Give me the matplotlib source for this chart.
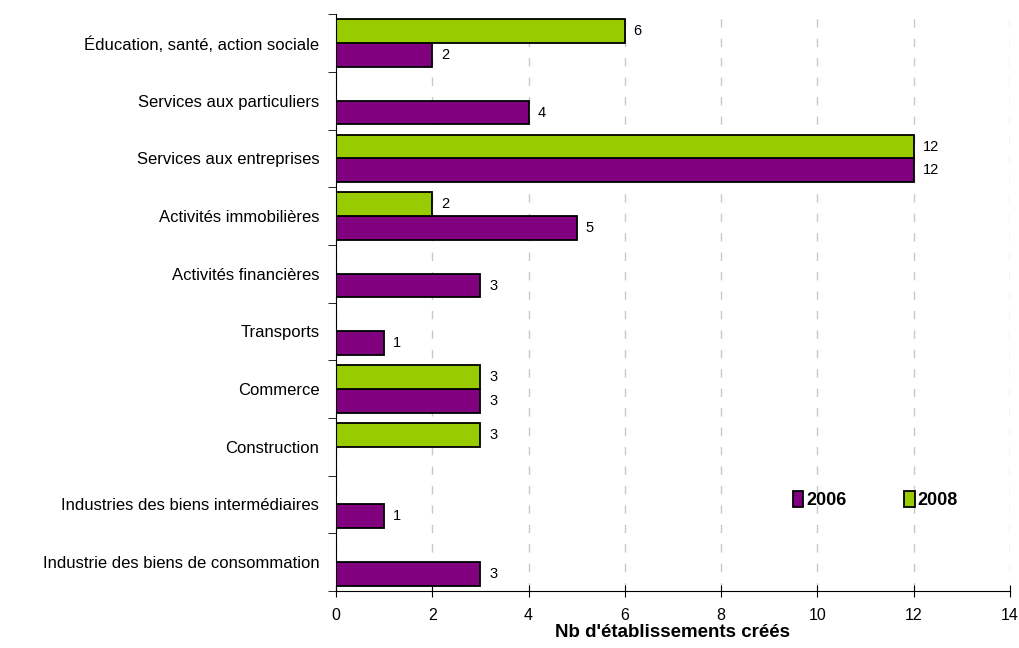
import numpy as np
import matplotlib.pyplot as plt

plt.rcParams['font.family'] = ['Liberation Sans', 'DejaVu Sans']

categories = ["Industrie des biens de consommation",
              "Industries des biens intermédiaires",
              "Construction",
              "Commerce",
              "Transports",
              "Activités financières",
              "Activités immobilières",
              "Services aux entreprises",
              "Services aux particuliers",
              "Éducation, santé, action sociale"]
v2006 = [3, 1, 0, 3, 1, 3, 5, 12, 4, 2]
v2008 = [0, 0, 3, 3, 0, 0, 2, 12, 0, 6]

purple = "#800080"
green = "#99CC00"

fig = plt.figure(figsize=(10.19, 6.48), dpi=100)
ax = fig.add_axes([0.3297, 0.088, 0.6615, 0.890])

y = np.arange(len(categories))
h = 0.41
b1 = ax.barh(y - h / 2, v2006, height=h, color=purple, edgecolor="black", linewidth=1.3, label="2006")
b2 = ax.barh(y + h / 2, v2008, height=h, color=green, edgecolor="black", linewidth=1.3, label="2008")

for bars, vals in ((b1, v2006), (b2, v2008)):
    for rect, v in zip(bars, vals):
        if v > 0:
            ax.text(v + 0.18, rect.get_y() + rect.get_height() / 2, str(v),
                    va="center", ha="left", fontsize=10.5)

ax.set_xlim(0, 14)
ax.set_ylim(-0.5, len(categories) - 0.5)
ax.set_xticks(range(0, 15, 2))
ax.set_yticks(y)
ax.set_yticklabels(categories, fontsize=12)
ax.set_yticks(np.arange(-0.5, len(categories), 1), minor=True)
ax.tick_params(axis="y", which="major", length=0, pad=12)
ax.tick_params(axis="y", which="minor", length=6, direction="out")
ax.tick_params(axis="x", length=8, direction="inout", labelsize=11.5, pad=8)

ax.xaxis.grid(True, color="#c8c8c8", linestyle=(0, (6, 8)), linewidth=1)
ax.set_axisbelow(True)
for s in ("top", "right"):
    ax.spines[s].set_visible(False)

ax.set_xlabel("Nb d'établissements créés", fontsize=13.5, fontweight="bold", labelpad=1)

leg = ax.legend(loc="center", bbox_to_anchor=(0.80, 0.158), ncol=2, frameon=False,
                prop={"weight": "bold", "size": 13}, handlelength=0.6, handleheight=1.0,
                columnspacing=3.2, handletextpad=0.15)

plt.savefig("out.png", dpi=100)
